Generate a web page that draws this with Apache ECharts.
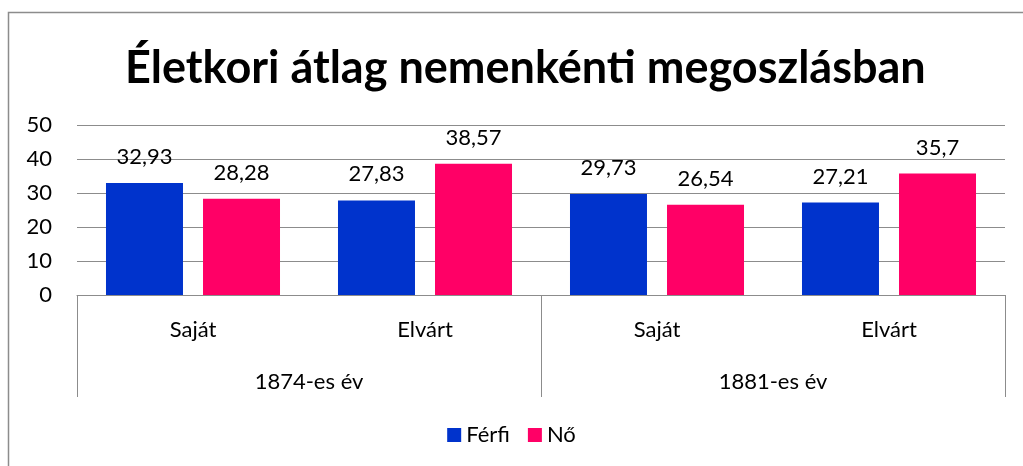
<!DOCTYPE html>
<html>
<head>
<meta charset="utf-8">
<script src="https://cdn.jsdelivr.net/npm/echarts@6/dist/echarts.min.js"></script>
<style>
html,body{margin:0;padding:0;background:#fff;}
#chart{width:1023px;height:466px;}
</style>
</head>
<body>
<div id="chart"></div>
<script>
const titleText = 'Életkori átlag nemenkénti megoszlásban';
const categories = ['Saját', 'Elvárt', 'Saját', 'Elvárt'];
const groups = ['1874-es év', '1881-es év'];
const seriesNames = ['Férfi', 'Nő'];
const ferfi = [32.93, 27.83, 29.73, 27.21];
const no = [28.28, 38.57, 26.54, 35.7];
const yTicks = { min: 0, max: 50, interval: 10 };

const FONT = 'Lato';
const FS = 22;
const chart = echarts.init(document.getElementById('chart'), null, { renderer: 'canvas' });
const labelFmt = p => String(p.value).replace('.', ',');

chart.setOption({
  animation: false,
  backgroundColor: '#fff',
  textStyle: { fontFamily: FONT },
  title: {
    text: titleText,
    left: 120,
    top: 41,
    textStyle: { fontFamily: FONT, fontSize: 45, fontWeight: 'bold', color: '#000' }
  },
  legend: {
    bottom: 15,
    left: 'center',
    icon: 'rect',
    itemWidth: 14,
    itemHeight: 14,
    itemGap: 18,
    itemStyle: { borderWidth: 0 },
    textStyle: { fontFamily: FONT, fontSize: FS, color: '#000' },
    data: seriesNames
  },
  grid: { left: 77, right: 18, top: 125, bottom: 171, containLabel: false },
  xAxis: [
    {
      type: 'category',
      data: categories,
      position: 'bottom',
      axisLine: { show: true, lineStyle: { color: '#8c8c8c', width: 1 } },
      axisTick: { show: false },
      axisLabel: { fontFamily: FONT, fontSize: FS, color: '#000', margin: 24, interval: 0 }
    },
    {
      type: 'category',
      data: groups,
      position: 'bottom',
      axisLine: { show: false },
      axisTick: { show: true, length: 102, interval: 0, lineStyle: { color: '#8c8c8c', width: 1 } },
      axisLabel: { fontFamily: FONT, fontSize: FS, color: '#000', margin: 76, interval: 0 },
      splitLine: { show: false }
    }
  ],
  yAxis: {
    type: 'value',
    min: yTicks.min,
    max: yTicks.max,
    interval: yTicks.interval,
    axisLine: { show: false },
    axisTick: { show: false },
    axisLabel: { fontFamily: FONT, fontSize: FS, color: '#000', margin: 25 },
    splitLine: { lineStyle: { color: '#8c8c8c', width: 1 } }
  },
  series: [
    {
      name: seriesNames[0],
      type: 'bar',
      data: ferfi,
      barWidth: 77,
      barGap: '26%',
      itemStyle: { color: '#0033CC' },
      label: { show: true, position: 'top', distance: 15, fontFamily: FONT, fontSize: FS, color: '#000', formatter: labelFmt }
    },
    {
      name: seriesNames[1],
      type: 'bar',
      data: no,
      barWidth: 77,
      barGap: '26%',
      itemStyle: { color: '#FF0066' },
      label: { show: true, position: 'top', distance: 15, fontFamily: FONT, fontSize: FS, color: '#000', formatter: labelFmt }
    }
  ],
  graphic: [
    {
      type: 'polyline',
      shape: { points: [[8.5, 466], [8.5, 12.5], [1023, 12.5]] },
      style: { stroke: '#8c8c8c', lineWidth: 1.5, fill: null },
      silent: true
    }
  ]
});
</script>
</body>
</html>
